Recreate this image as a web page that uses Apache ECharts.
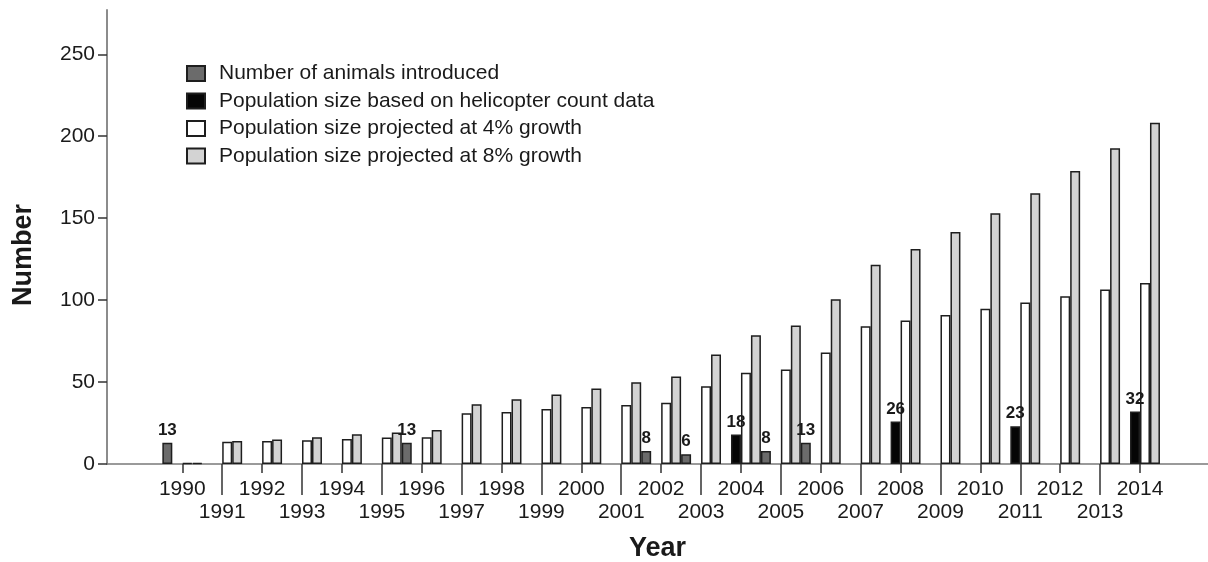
<!DOCTYPE html>
<html>
<head>
<meta charset="utf-8">
<script src="https://cdn.jsdelivr.net/npm/echarts@6/dist/echarts.min.js"></script>
<style>html,body{margin:0;padding:0;background:#fff}#c{width:1208px;height:562px}</style>
</head>
<body>
<div id="c"></div>
<script>
// Each bar group occupies the span that starts at the listed year's tick
const years = [1989,1990,1991,1992,1993,1994,1995,1996,1997,1998,1999,2000,2001,2002,2003,2004,2005,2006,2007,2008,2009,2010,2011,2012,2013,2014];
const growth4 = [null,0.5,13.5,14,14.5,15.3,16.1,16.3,31,31.8,33.6,34.8,36,37.3,47.4,55.6,57.6,68,84,87.6,90.9,94.7,98.6,102.3,106.4,110.4];
const growth8 = [null,0.5,14,15,16.3,18.1,19.2,20.8,36.5,39.5,42.4,46,49.9,53.4,66.8,78.5,84.5,100.5,121.6,131.2,141.6,153,165.2,178.7,192.7,208.2];
const introduced = [13,null,null,null,null,null,13,null,null,null,null,null,8,6,null,8,13,null,null,null,null,null,null,null,null,null];
const helicopter = [null,null,null,null,null,null,null,null,null,null,null,null,null,null,18,null,null,null,26,null,null,23,null,null,32,null];
const evenYearTicks = [1990,1992,1994,1996,1998,2000,2002,2004,2006,2008,2010,2012,2014];
const oddYearTicks = [1991,1993,1995,1997,1999,2001,2003,2005,2007,2009,2011,2013];
const yTicks = [0,50,100,150,200,250];
const seriesNames = ['Number of animals introduced','Population size based on helicopter count data','Population size projected at 4% growth','Population size projected at 8% growth'];

const FONT = 'Liberation Sans, Arial, Helvetica, sans-serif';
const X_MIN = 1988.113, X_MAX = 2015.704;

function pairs(arr){ return years.map((y,i)=>[y+0.5, arr[i]]); }

const chart = echarts.init(document.getElementById('c'), null, {renderer:'canvas'});
const labelCfg = {show:true, position:'top', distance:4, fontSize:17, fontWeight:'bold', color:'#1a1a1a', fontFamily:FONT,
  formatter: p => p.value[1] == null ? '' : String(p.value[1])};
const border = {borderColor:'#1e1e1e', borderWidth:1.5};

const baseX = {
  type:'value', min:X_MIN, max:X_MAX, position:'bottom',
  splitLine:{show:false}
};

chart.setOption({
  animation:false,
  backgroundColor:'#fff',
  textStyle:{fontFamily:FONT},
  grid:{left:107, right:0, top:10, bottom:98, containLabel:false, outerBoundsMode:'none'},
  legend:{
    orient:'vertical', left:186, top:63, padding:0, itemWidth:18, itemHeight:15, itemGap:6.5,
    data:seriesNames,
    textStyle:{fontSize:21, color:'#1a1a1a', fontFamily:FONT, padding:[0,0,0,9]},
    icon:'rect', selectedMode:false
  },
  xAxis:[
    Object.assign({}, baseX, {
      axisLine:{show:true, lineStyle:{color:'#7a7a7a', width:1.5}},
      axisTick:{show:true, customValues:evenYearTicks, length:9, lineStyle:{color:'#333', width:1.5}},
      axisLabel:{customValues:evenYearTicks, margin:15, fontSize:21, color:'#1a1a1a', fontFamily:FONT, formatter:v=>String(v)},
      name:'Year', nameLocation:'middle', nameGap:71,
      nameTextStyle:{fontSize:27, fontWeight:'bold', color:'#1a1a1a', fontFamily:FONT}
    }),
    Object.assign({}, baseX, {
      axisLine:{show:false},
      axisTick:{show:true, customValues:oddYearTicks, length:31, lineStyle:{color:'#333', width:1.5}},
      axisLabel:{customValues:oddYearTicks, margin:38, fontSize:21, color:'#1a1a1a', fontFamily:FONT, formatter:v=>String(v)}
    })
  ],
  yAxis:{
    type:'value', min:0, max:277,
    axisLine:{show:true, lineStyle:{color:'#8c8c8c', width:2}},
    axisTick:{show:true, customValues:yTicks, length:9, lineStyle:{color:'#333', width:1.5}},
    axisLabel:{customValues:yTicks, margin:12, fontSize:21, color:'#1a1a1a', fontFamily:FONT},
    splitLine:{show:false},
    name:'Number', nameLocation:'middle', nameGap:70, nameRotate:90,
    nameTextStyle:{fontSize:27, fontWeight:'bold', color:'#1a1a1a', fontFamily:FONT, padding:[0,36,0,0]}
  },
  series:[
    {name:seriesNames[2], type:'bar', xAxisIndex:0, data:pairs(growth4), barGap:'0%', barCategoryGap:'0%',
      itemStyle:Object.assign({color:'#ffffff'}, border)},
    {name:seriesNames[3], type:'bar', xAxisIndex:0, data:pairs(growth8), barGap:'0%', barCategoryGap:'0%',
      itemStyle:Object.assign({color:'#d3d3d3'}, border)},
    {name:seriesNames[0], type:'bar', xAxisIndex:0, data:pairs(introduced), barGap:'0%', barCategoryGap:'0%',
      itemStyle:Object.assign({color:'#6b6b6b'}, border), label:labelCfg},
    {name:seriesNames[1], type:'bar', xAxisIndex:0, data:pairs(helicopter), barGap:'0%', barCategoryGap:'0%',
      itemStyle:Object.assign({color:'#050505'}, border), label:labelCfg}
  ]
});
</script>
</body>
</html>
